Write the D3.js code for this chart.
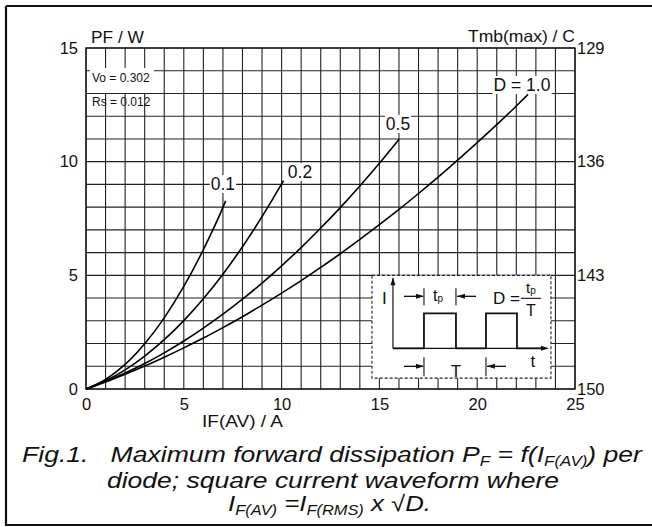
<!DOCTYPE html>
<html><head><meta charset="utf-8">
<script src="https://cdn.jsdelivr.net/npm/d3@7"></script>
<style>body{margin:0;background:#fff}svg{display:block}text{font-family:"Liberation Sans",Arial,Helvetica,sans-serif;fill:#111}</style>
</head><body><svg id="c" width="652" height="527"></svg>
<script>
// ---- data ----
const xTicks = [0, 5, 10, 15, 20, 25];
const yTicks = [0, 5, 10, 15];
const tmbTicks = [150, 143, 136, 129];
const curveLabels = ["0.1", "0.2", "0.5", "D = 1.0"];
const iD01 = [0, 1, 2, 3, 4, 5, 6, 7, 7.14];
const pD01 = [0, 0.42, 1.08, 1.99, 3.13, 4.51, 6.13, 7.99, 8.28];
const iD02 = [0, 1, 2, 3, 4, 5, 6, 7, 8, 9, 10, 10.1];
const pD02 = [0, 0.36, 0.84, 1.45, 2.17, 3.01, 3.97, 5.05, 6.26, 7.58, 9.02, 9.17];
const iD05 = [0, 1, 2, 3, 4, 5, 6, 7, 8, 9, 10, 11, 12, 13, 14, 15, 16];
const pD05 = [0, 0.33, 0.70, 1.12, 1.59, 2.11, 2.68, 3.29, 3.95, 4.66, 5.42, 6.22, 7.08, 7.98, 8.93, 9.93, 10.98];
const iD10 = [0, 1, 2, 3, 4, 5, 6, 7, 8, 9, 10, 11, 12, 13, 14, 15, 16, 17, 18, 19, 20, 21, 22, 22.6];
const pD10 = [0, 0.31, 0.65, 1.01, 1.40, 1.81, 2.24, 2.70, 3.18, 3.69, 4.22, 4.77, 5.35, 5.95, 6.58, 7.23, 7.90, 8.60, 9.32, 10.07, 10.84, 11.63, 12.45, 12.96];
const labelX = [7.0, 10.94, 15.95, 22.29];
const labelY = [9.02, 9.55, 11.66, 13.37];

const svg = d3.select("#c");
const FONT = '"Liberation Sans",Arial,Helvetica,sans-serif';
const x = d3.scaleLinear([0, 25], [86, 575]);
const y = d3.scaleLinear([0, 15], [389, 48]);
const yR = d3.scaleLinear([150, 129], [389, 48]);
const fit = (t, len) => t.attr("textLength", len).attr("lengthAdjust", "spacingAndGlyphs");

// outer frame
svg.append("path").attr("d", "M6,6 H652 M6,6 V525 H652")
  .attr("fill", "none").attr("stroke", "#111").attr("stroke-width", 2.2);

// grid
const g = svg.append("g");
g.selectAll(".vx").data(d3.range(0, 26)).join("line")
  .attr("x1", d => x(d)).attr("x2", d => x(d)).attr("y1", y(0)).attr("y2", y(15))
  .attr("stroke", "#222").attr("stroke-width", 1.1);
g.selectAll(".hy").data(d3.range(0, 16)).join("line")
  .attr("x1", x(0)).attr("x2", x(25)).attr("y1", d => y(d)).attr("y2", d => y(d))
  .attr("stroke", "#222").attr("stroke-width", 1.1);
g.append("rect").attr("x", x(0)).attr("y", y(15)).attr("width", x(25) - x(0)).attr("height", y(0) - y(15))
  .attr("fill", "none").attr("stroke", "#111").attr("stroke-width", 1.3);

// axes
const axL = d3.axisLeft(y).tickValues(yTicks).tickSize(0).tickPadding(8);
const axB = d3.axisBottom(x).tickValues(xTicks).tickSize(0).tickPadding(9);
const axR = d3.axisRight(yR).tickValues(tmbTicks).tickSize(0).tickPadding(2);
[[axL, `translate(${x(0)},0)`], [axB, `translate(0,${y(0)})`], [axR, `translate(${x(25)},0)`]].forEach(([a, t]) => {
  const gg = svg.append("g").attr("transform", t).call(a);
  gg.select(".domain").remove();
  gg.selectAll("text").attr("font-family", FONT).attr("font-size", 16.5).attr("fill", "#111");
});

// axis titles
fit(svg.append("text").attr("x", 91).attr("y", 43).attr("font-size", 16.5).text("PF / W"), 53);
fit(svg.append("text").attr("x", 468).attr("y", 42).attr("font-size", 16.5).text("Tmb(max) / C"), 107);
fit(svg.append("text").attr("x", 202).attr("y", 427).attr("font-size", 16.5).text("IF(AV) / A"), 81);

// Vo / Rs annotation
svg.append("rect").attr("x", 90).attr("y", 68).attr("width", 64).attr("height", 25).attr("fill", "#fff");
svg.append("text").attr("x", 92).attr("y", 82).attr("font-size", 12).text("Vo = 0.302");
svg.append("text").attr("x", 92).attr("y", 106).attr("font-size", 12).text("Rs = 0.012");

// curves
const series = [[iD01, pD01], [iD02, pD02], [iD05, pD05], [iD10, pD10]];
const line = d3.line().x(d => x(d[0])).y(d => y(d[1])).curve(d3.curveMonotoneX);
svg.selectAll(".curve").data(series).join("path")
  .attr("d", s => line(s[0].map((v, i) => [v, s[1][i]])))
  .attr("fill", "none").attr("stroke", "#000").attr("stroke-width", 1.6);

// curve labels with white backgrounds
curveLabels.forEach((lab, i) => {
  const t = svg.append("text").attr("x", x(labelX[i])).attr("y", y(labelY[i]))
    .attr("text-anchor", "middle").attr("dominant-baseline", "central")
    .attr("font-size", 17.5).text(lab);
  const b = t.node().getBBox();
  svg.insert("rect", () => t.node()).attr("x", b.x - 1).attr("y", b.y + 1).attr("width", b.width + 2).attr("height", b.height - 2).attr("fill", "#fff");
});

// inset waveform
const ins = svg.append("g").attr("transform", `translate(${x(14.62)},${y(5)})`);
const W = x(23.77) - x(14.62), H = y(0.48) - y(5);
ins.append("rect").attr("width", W).attr("height", H).attr("fill", "#fff")
  .attr("stroke", "#222").attr("stroke-width", 1.1).attr("stroke-dasharray", "3,2");
function P(d, sw) { ins.append("path").attr("d", d).attr("fill", "none").attr("stroke", "#111").attr("stroke-width", sw || 1.3); }
function arrowHead(px, py, dir) {
  let d;
  if (dir === "r") d = `M${px},${py} l-8,-2.5 v5 z`;
  if (dir === "l") d = `M${px},${py} l8,-2.5 v5 z`;
  if (dir === "u") d = `M${px},${py} l-2.5,8 h5 z`;
  ins.append("path").attr("d", d).attr("fill", "#111");
}
P("M21,73 V3", 1.2); arrowHead(21, 2, "u");
P("M21,73 H175", 1.2); arrowHead(177, 73, "r");
P("M21,73 H52 V38 H84 V73 H114 V38 H145 V73 H170", 1.8);
P("M32,21 H51"); arrowHead(52, 21, "r");
P("M52,13 V30", 1.1);
P("M84,13 V30", 1.1);
P("M85,21 H104"); arrowHead(85, 21, "l");
P("M32,91 H51"); arrowHead(52, 91, "r");
P("M52,82 V101", 1.1);
P("M114,82 V101", 1.1);
P("M115,91 H134"); arrowHead(115, 91, "l");
const tt = (tx, ty, s, fs, anchor) => ins.append("text").attr("x", tx).attr("y", ty).attr("font-size", fs).attr("text-anchor", anchor || "start").text(s);
tt(10, 29, "I", 17);
const tp1 = tt(66, 26, "t", 16, "middle"); tp1.append("tspan").attr("font-size", 10).attr("dy", 1).text("p");
tt(121, 29, "D =", 17);
P("M149,23 H169", 1.1);
const tp2 = tt(159, 18, "t", 15, "middle"); tp2.append("tspan").attr("font-size", 10).attr("dy", 1).text("p");
tt(159, 41, "T", 16, "middle");
tt(161, 92, "t", 17, "middle");
tt(84, 102, "T", 17, "middle");

// caption
const cap = svg.append("g").attr("font-style", "italic").attr("font-size", 22);
function sub(t, s) { t.append("tspan").attr("font-size", 14).attr("dy", 4).text(s); }
function back(t, s) { t.append("tspan").attr("dy", -4).text(s); }
const l1 = cap.append("text").attr("x", 22).attr("y", 462).attr("xml:space", "preserve");
l1.append("tspan").text("Fig.1.   Maximum forward dissipation P");
sub(l1, "F"); back(l1, " = f(I"); sub(l1, "F(AV)"); back(l1, ") per");
fit(l1, 620);
fit(cap.append("text").attr("x", 107).attr("y", 488).text("diode; square current waveform where"), 452);
const l3 = cap.append("text").attr("x", 228).attr("y", 511).attr("xml:space", "preserve");
l3.append("tspan").text("I"); sub(l3, "F(AV)"); back(l3, " =I"); sub(l3, "F(RMS)"); back(l3, " x \u221AD.");
fit(l3, 203);
</script></body></html>
